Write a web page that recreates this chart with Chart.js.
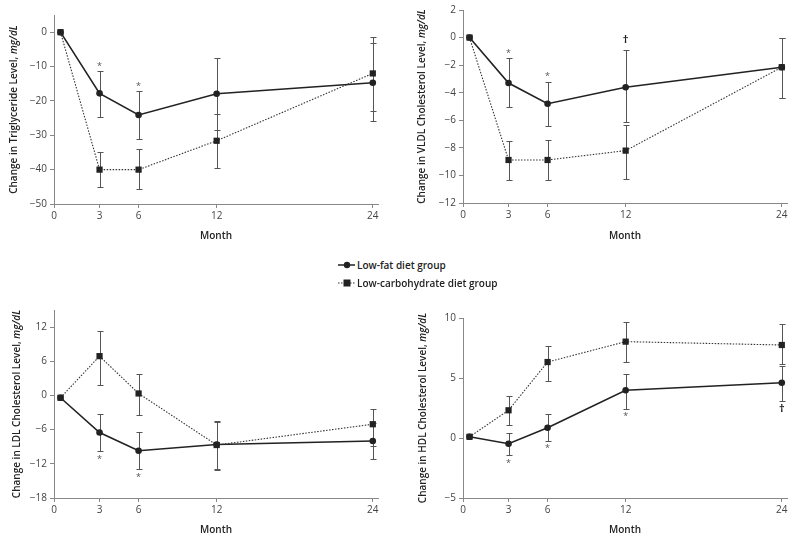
<!DOCTYPE html>
<html>
<head>
<meta charset="utf-8">
<script src="https://cdn.jsdelivr.net/npm/chart.js@4"></script>
<style>
body { margin: 0; background: #fff; }
#wrap { position: relative; width: 800px; height: 543px; font-family: 'Open Sans', sans-serif; }
canvas { position: absolute; }
.row { position: absolute; left: 338px; height: 16px; line-height: 16px; font-size: 10px; font-weight: 600; color: #222; white-space: nowrap; }
.row svg { vertical-align: middle; margin-right: 2px; position: relative; top: -1px; }
</style>
</head>
<body>
<div id="wrap">
  <canvas id="c1" width="400" height="250" style="left:0;top:0"></canvas>
  <canvas id="c2" width="400" height="250" style="left:400px;top:0"></canvas>
  <canvas id="c3" width="400" height="253" style="left:0;top:290px"></canvas>
  <canvas id="c4" width="400" height="253" style="left:400px;top:290px"></canvas>
  <div class="row" style="top:257px"><svg width="17" height="10"><line x1="0" y1="5" x2="17" y2="5" stroke="#222" stroke-width="1.5"/><circle cx="9" cy="5" r="3.2" fill="#222"/></svg>Low-fat diet group</div>
  <div class="row" style="top:275px"><svg width="17" height="10"><line x1="0" y1="5" x2="17" y2="5" stroke="#333" stroke-width="1.2" stroke-dasharray="1.5,1.5"/><rect x="5.5" y="1.5" width="7" height="7" fill="#222"/></svg>Low-carbohydrate diet group</div>
</div>
<script>
const months = [0, 3, 6, 12, 24];
const xTicks = [0, 3, 6, 12, 24];

// triglyceride
const trigTicks = [0, -10, -20, -30, -40, -50];
const trigFat = [0, -17.8, -24.1, -17.9, -14.7];
const trigFatLo = [null, -24.6, -31.2, -28.4, -25.9];
const trigFatHi = [null, -11.3, -17.2, -7.4, -3.2];
const trigCarb = [0, -40, -40, -31.6, -12.0];
const trigCarbLo = [null, -45.0, -45.6, -39.5, -22.8];
const trigCarbHi = [null, -35.0, -34.0, -23.7, -1.5];
const trigMarks = ['', '*', '*', '', ''];

// VLDL
const vldlTicks = [2, 0, -2, -4, -6, -8, -10, -12];
const vldlFat = [0, -3.3, -4.8, -3.6, -2.15];
const vldlFatLo = [null, -5.0, -6.4, -6.1, -4.4];
const vldlFatHi = [null, -1.5, -3.2, -0.9, 0];
const vldlCarb = [0, -8.88, -8.88, -8.2, -2.15];
const vldlCarbLo = [null, -10.33, -10.35, -10.26, -4.4];
const vldlCarbHi = [null, -7.5, -7.46, -6.35, 0];
const vldlMarks = ['', '*', '*', '\u2020', ''];

// LDL
const ldlTicks = [12, 6, 0, -6, -12, -18];
const ldlFat = [-0.4, -6.5, -9.7, -8.6, -8.0];
const ldlFatLo = [null, -9.8, -12.9, -12.9, -11.2];
const ldlFatHi = [null, -3.3, -6.5, -4.6, -4.8];
const ldlCarb = [-0.4, 6.9, 0.35, -8.7, -5.05];
const ldlCarbLo = [null, 1.9, -3.5, -13.0, -8.9];
const ldlCarbHi = [null, 11.3, 3.7, -4.5, -2.3];
const ldlMarks = ['', '*', '*', '', ''];

// HDL
const hdlTicks = [10, 5, 0, -5];
const hdlFat = [0.1, -0.48, 0.86, 3.98, 4.6];
const hdlFatLo = [null, -1.42, -0.22, 2.43, 3.1];
const hdlFatHi = [null, 0.42, 2.0, 5.35, 6.0];
const hdlCarb = [0.1, 2.31, 6.33, 8.03, 7.75];
const hdlCarbLo = [null, 1.05, 4.71, 6.36, 6.19];
const hdlCarbHi = [null, 3.51, 7.67, 9.67, 9.54];
const hdlMarks = ['', '*', '*', '*', '\u2020'];

const xMin = -0.5, xMax = 24.4;
const FONT = "'Open Sans', sans-serif";

// vertical error bars with caps
const errorBars = {
  id: 'errorBars',
  beforeDatasetsDraw(chart) {
    const { ctx, scales: { x, y } } = chart;
    ctx.save();
    ctx.strokeStyle = '#555';
    ctx.lineWidth = 1;
    chart.data.datasets.forEach(ds => {
      ds.data.forEach((p, i) => {
        const lo = ds.errLo[i], hi = ds.errHi[i];
        if (lo == null) return;
        const px = Math.round(x.getPixelForValue(p.x)) + 0.5;
        const a = Math.round(y.getPixelForValue(lo)) + 0.5;
        const b = Math.round(y.getPixelForValue(hi)) + 0.5;
        ctx.beginPath();
        ctx.moveTo(px, a); ctx.lineTo(px, b);
        ctx.moveTo(px - 3, a); ctx.lineTo(px + 3, a);
        ctx.moveTo(px - 3, b); ctx.lineTo(px + 3, b);
        ctx.stroke();
      });
    });
    ctx.restore();
  }
};

// asterisks and daggers beside the low-fat error bars
const sigMarks = {
  id: 'sigMarks',
  afterDatasetsDraw(chart, args, opts) {
    const { ctx, scales: { x, y } } = chart;
    const ds = chart.data.datasets[1];
    ctx.save();
    ctx.textAlign = 'center';
    ctx.textBaseline = 'middle';
    opts.marks.forEach((m, i) => {
      if (!m) return;
      const px = x.getPixelForValue(months[i]);
      const star = m === '*';
      let py;
      if (opts.side === 'above') py = y.getPixelForValue(ds.errHi[i]) - (star ? 5 : 10);
      else py = y.getPixelForValue(ds.errLo[i]) + 8;
      ctx.fillStyle = star ? '#555' : '#222';
      ctx.font = star ? '9px ' + FONT : 'bold 11px ' + FONT;
      ctx.fillText(m, px, py);
    });
    ctx.restore();
  }
};

// rotated y title with italic unit
const yTitle = {
  id: 'yTitle',
  afterDraw(chart, args, opts) {
    const { ctx, chartArea } = chart;
    const cx = chartArea.left - opts.offset;
    const cy = (chartArea.top + chartArea.bottom) / 2;
    const f1 = '600 10px ' + FONT, f2 = 'italic 600 10px ' + FONT;
    ctx.save();
    ctx.translate(cx, cy);
    ctx.rotate(-Math.PI / 2);
    ctx.font = f1; const w1 = ctx.measureText(opts.text).width;
    ctx.font = f2; const w2 = ctx.measureText(opts.unit).width;
    const sx = -(w1 + w2) / 2;
    ctx.textBaseline = 'middle';
    ctx.fillStyle = '#222';
    ctx.font = f1; ctx.fillText(opts.text, sx, 0);
    ctx.font = f2; ctx.fillText(opts.unit, sx + w1, 0);
    ctx.restore();
  }
};

function makePanel(id, p) {
  new Chart(document.getElementById(id), {
    type: 'line',
    data: {
      datasets: [{
        data: months.map((m, i) => ({ x: m, y: p.carb[i] })),
        errLo: p.carbLo, errHi: p.carbHi,
        borderColor: '#333', borderWidth: 1.1, borderDash: [1.5, 1.5],
        pointStyle: 'rect', pointRadius: 4.4, pointBorderWidth: 0,
        pointBackgroundColor: '#222'
      }, {
        data: months.map((m, i) => ({ x: m, y: p.fat[i] })),
        errLo: p.fatLo, errHi: p.fatHi,
        borderColor: '#222', borderWidth: 1.6,
        pointStyle: 'circle', pointRadius: 3.3, pointBorderWidth: 0,
        pointBackgroundColor: '#222'
      }]
    },
    options: {
      responsive: false,
      animation: false,
      layout: { padding: p.pad },
      plugins: {
        legend: { display: false },
        tooltip: { enabled: false },
        yTitle: { text: p.title, unit: 'mg/dL', offset: p.titleOff },
        sigMarks: { marks: p.marks, side: p.side }
      },
      scales: {
        x: {
          type: 'linear', min: xMin, max: xMax,
          afterBuildTicks: s => { s.ticks = xTicks.map((m, i) => ({ value: i === 0 ? xMin : m })); },
          afterFit: s => { s.height = p.xh; },
          ticks: { callback: (v, i) => xTicks[i], color: '#444', padding: 2, font: { family: FONT, size: 10 } },
          grid: { drawOnChartArea: false, tickLength: 4, color: '#888' },
          border: { color: '#888' },
          title: { display: true, text: 'Month', color: '#222', padding: { top: 0, bottom: p.mb }, font: { family: FONT, size: 10, weight: '600' } }
        },
        y: {
          min: p.min, max: p.max,
          afterBuildTicks: s => { s.ticks = p.ticks.map(v => ({ value: v })); },
          afterFit: s => { s.width = p.yw; },
          ticks: { callback: v => String(v).replace('-', '\u2212'), color: '#444', padding: 3, font: { family: FONT, size: 10 } },
          grid: { drawOnChartArea: false, tickLength: 4, color: '#888' },
          border: { color: '#888' }
        }
      }
    },
    plugins: [errorBars, sigMarks, yTitle]
  });
}

makePanel('c1', {
  fat: trigFat, fatLo: trigFatLo, fatHi: trigFatHi,
  carb: trigCarb, carbLo: trigCarbLo, carbHi: trigCarbHi,
  marks: trigMarks, side: 'above', ticks: trigTicks, min: -50, max: 5,
  title: 'Change in Triglyceride Level, ',
  pad: { top: 15, right: 22, left: 0, bottom: 0 }, yw: 54, xh: 46, mb: 8, titleOff: 40
});
makePanel('c2', {
  fat: vldlFat, fatLo: vldlFatLo, fatHi: vldlFatHi,
  carb: vldlCarb, carbLo: vldlCarbLo, carbHi: vldlCarbHi,
  marks: vldlMarks, side: 'above', ticks: vldlTicks, min: -12, max: 2,
  title: 'Change in VLDL Cholesterol Level, ',
  pad: { top: 10, right: 13, left: 0, bottom: 0 }, yw: 63, xh: 47, mb: 8, titleOff: 41
});
makePanel('c3', {
  fat: ldlFat, fatLo: ldlFatLo, fatHi: ldlFatHi,
  carb: ldlCarb, carbLo: ldlCarbLo, carbHi: ldlCarbHi,
  marks: ldlMarks, side: 'below', ticks: ldlTicks, min: -18, max: 15,
  title: 'Change in LDL Cholesterol Level, ',
  pad: { top: 20, right: 22, left: 0, bottom: 0 }, yw: 54, xh: 45, mb: 7, titleOff: 37
});
makePanel('c4', {
  fat: hdlFat, fatLo: hdlFatLo, fatHi: hdlFatHi,
  carb: hdlCarb, carbLo: hdlCarbLo, carbHi: hdlCarbHi,
  marks: hdlMarks, side: 'below', ticks: hdlTicks, min: -5, max: 10,
  title: 'Change in HDL Cholesterol Level, ',
  pad: { top: 28, right: 13, left: 0, bottom: 0 }, yw: 63, xh: 45, mb: 7, titleOff: 40
});
</script>
</body>
</html>
